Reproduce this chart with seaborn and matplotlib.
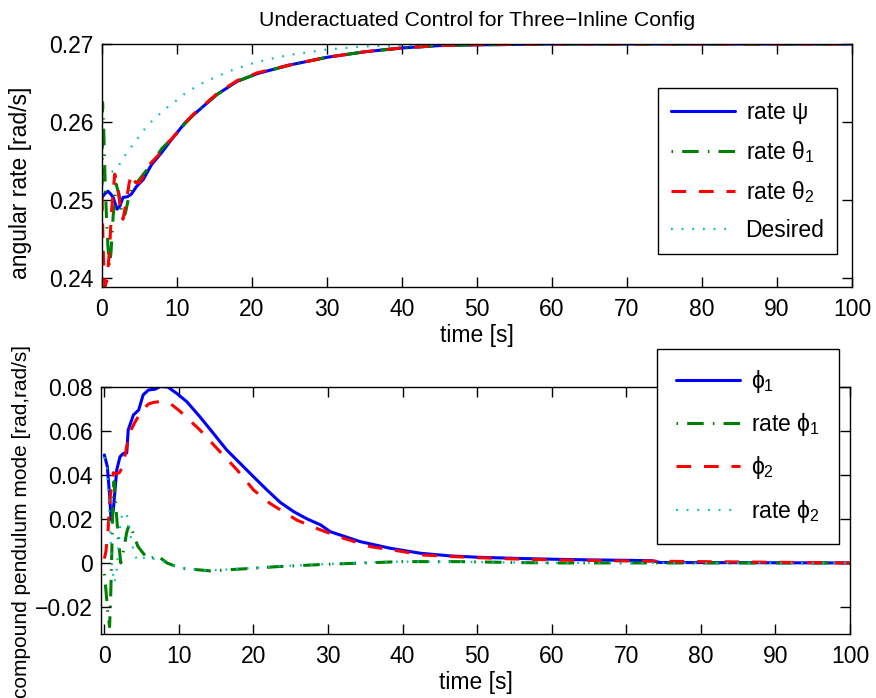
import matplotlib
matplotlib.use("Agg")
import matplotlib.pyplot as plt
import seaborn as sns
from matplotlib.lines import Line2D

# ---- angular rates (top panel) ----
t_psi = [0, 0.4, 0.8, 1.2, 1.5, 2.0, 2.4, 2.8, 3.4, 3.9, 4.6, 5.5, 6.6, 7.9,
         9.25, 11.0, 12.2, 15.3, 18.0, 20.7, 25, 30, 35, 40, 45, 50, 60, 100]
rate_psi = [0.2503, 0.2508, 0.2511, 0.2507, 0.2503, 0.2488, 0.2492, 0.2503, 0.2504,
            0.2507, 0.2517, 0.2526, 0.2545, 0.2560, 0.2577, 0.2598, 0.2609, 0.2635,
            0.2652, 0.2662, 0.2673, 0.2683, 0.2690, 0.2695, 0.2698, 0.2699, 0.2700, 0.2700]

t_th1 = [0, 0.08, 0.25, 0.4, 0.6, 0.8, 1.0, 1.2, 1.5, 1.9, 2.3, 2.7, 3.1, 3.5, 3.9,
         4.5, 5.3, 6.5, 8, 10, 11, 12.2, 15.3, 18, 20.7, 25, 30, 35, 40, 45, 50, 60, 100]
rate_th1 = [0.2505, 0.2625, 0.2585, 0.2530, 0.2478, 0.2440, 0.2415, 0.2432, 0.2480,
            0.2520, 0.2505, 0.2478, 0.2482, 0.2500, 0.2513, 0.2520, 0.2530, 0.2545,
            0.2566, 0.2585, 0.2597, 0.2609, 0.2635, 0.2652, 0.2662, 0.2673, 0.2683,
            0.2690, 0.2695, 0.2698, 0.2699, 0.2700, 0.2700]

t_th2 = [0, 0.2, 0.4, 0.7, 1.0, 1.3, 1.7, 2.1, 2.5, 2.8, 3.2, 3.6, 3.9, 4.5, 5.0,
         5.5, 6.5, 7.5, 8.5, 10, 11, 12.2, 15.3, 18, 20.7, 25, 30, 35, 40, 45, 50, 60, 100]
rate_th2 = [0.2505, 0.2425, 0.2389, 0.2398, 0.2435, 0.2488, 0.2533, 0.2520, 0.2482,
            0.2475, 0.2495, 0.2520, 0.2533, 0.2522, 0.2522, 0.2530, 0.2547, 0.2557,
            0.2570, 0.2586, 0.2598, 0.2610, 0.2636, 0.2653, 0.2663, 0.2673, 0.2683,
            0.2690, 0.2695, 0.2698, 0.2699, 0.2700, 0.2700]

t_des = [0, 1, 2, 3, 4, 5, 6, 7, 8, 9, 10, 11, 13, 15, 17.5, 20, 22.5, 25, 30, 35,
         40, 45, 50, 60, 100]
rate_des = [0.2530, 0.2534, 0.2540, 0.2556, 0.2569, 0.2582, 0.2595, 0.2604, 0.2613,
            0.2621, 0.2628, 0.2636, 0.2648, 0.2657, 0.2667, 0.2675, 0.2681, 0.2686,
            0.2693, 0.2697, 0.2698, 0.2699, 0.2700, 0.2700, 0.2700]

# ---- compound pendulum mode (bottom panel) ----
t_phi1 = [0, 0.4, 0.72, 0.9, 1.2, 1.66, 2.1, 2.55, 3.0, 3.2, 3.9, 4.6, 5.2, 5.9, 6.8,
          7.5, 8.5, 9.7, 11.06, 12.8, 14.6, 16.4, 18.2, 20, 21.8, 23.6, 25.4, 27.2, 29,
          30.3, 34.3, 38.3, 42.4, 46.4, 50, 55, 60, 65, 70, 73.5, 74.5, 100]
phi1 = [0.0491, 0.0438, 0.0301, 0.0195, 0.0240, 0.0423, 0.0483, 0.0498, 0.0500,
        0.0605, 0.0673, 0.0695, 0.0764, 0.0786, 0.0790, 0.0802, 0.0800, 0.0771,
        0.0733, 0.0665, 0.0590, 0.0514, 0.0453, 0.0392, 0.0332, 0.0275, 0.0233,
        0.0200, 0.0173, 0.0142, 0.0097, 0.0067, 0.0044, 0.0032, 0.0026, 0.0021,
        0.0017, 0.0014, 0.0012, 0.0010, 0.0002, 0.0000]

t_rphi1 = [0, 0.2, 0.45, 0.7, 0.85, 1.0, 1.15, 1.3, 1.6, 1.9, 2.2, 2.6, 3.0, 3.35,
           3.8, 4.5, 5.3, 6.1, 7.0, 8.4, 10.2, 14.2, 19.1, 23.1, 29.8, 35, 39.7, 47.7,
           55, 60, 100]
rate_phi1 = [-0.0050, -0.0120, -0.0220, -0.0290, -0.0150, 0.0050, 0.0280, 0.0370,
             0.0230, 0.0100, 0.0000, 0.0060, 0.0140, 0.0175, 0.0140, 0.0075, 0.0040,
             0.0015, 0.0036, 0.0000, -0.0024, -0.0036, -0.0026, -0.0017, -0.0006,
             0.0000, 0.0006, 0.0006, 0.0002, 0.0000, 0.0000]

t_phi2 = [0, 0.2, 0.5, 0.72, 1.0, 1.2, 1.6, 2.0, 2.5, 3.0, 3.5, 4.1, 5.0, 5.9, 6.6,
          7.4, 8.8, 10.2, 12.8, 15.5, 17.8, 20, 22.2, 25.8, 29, 32.1, 35.7, 39.2, 42.8,
          46.8, 50, 55, 60, 70, 100]
phi2 = [0.0020, 0.0050, 0.0150, 0.0280, 0.0360, 0.0410, 0.0405, 0.0410, 0.0440,
        0.0530, 0.0600, 0.0640, 0.0690, 0.0722, 0.0730, 0.0733, 0.0726, 0.0688,
        0.0605, 0.0506, 0.0423, 0.0332, 0.0271, 0.0195, 0.0150, 0.0112, 0.0074,
        0.0056, 0.0036, 0.0029, 0.0024, 0.0018, 0.0014, 0.0009, 0.0000]

t_rphi2 = [0, 0.3, 0.55, 0.8, 1.0, 1.3, 1.6, 1.9, 2.2, 2.6, 3.0, 3.4, 3.9, 4.4, 5.0,
           5.6, 6.5, 7.5, 8.3, 10, 14, 19, 23, 30, 35, 40, 48, 55, 60, 100]
rate_phi2 = [0.0480, 0.0460, 0.0300, 0.0150, 0.0000, -0.0090, -0.0060, 0.0080,
             0.0200, 0.0230, 0.0225, 0.0140, 0.0060, 0.0010, 0.0015, 0.0030, 0.0020,
             0.0015, 0.0000, -0.0022, -0.0034, -0.0025, -0.0016, -0.0005, 0.0002,
             0.0006, 0.0005, 0.0002, 0.0000, 0.0000]

top_labels = [r"rate $\psi$", r"rate $\theta_1$", r"rate $\theta_2$", "Desired"]
bot_labels = [r"$\phi_1$", r"rate $\phi_1$", r"$\phi_2$", r"rate $\phi_2$"]
x_ticks = [0, 10, 20, 30, 40, 50, 60, 70, 80, 90, 100]
top_yticks = [0.24, 0.25, 0.26, 0.27]
top_yticklabels = ["0.24", "0.25", "0.26", "0.27"]
bot_yticks = [-0.02, 0, 0.02, 0.04, 0.06, 0.08]
bot_yticklabels = ["\u22120.02", "0", "0.02", "0.04", "0.06", "0.08"]

sns.set_theme(style="ticks")
plt.rcParams.update({
    "font.family": ["Liberation Sans", "DejaVu Sans"],
    "mathtext.fontset": "custom",
    "mathtext.rm": "Liberation Sans",
    "mathtext.it": "Liberation Sans",
    "mathtext.bf": "Liberation Sans:bold",
    "axes.edgecolor": "black",
    "axes.linewidth": 1.0,
    "xtick.color": "black",
    "ytick.color": "black",
    "text.color": "black",
    "axes.labelcolor": "black",
})

BLUE, GREEN, RED, CYAN = "#0000ff", "#008000", "#ff0000", "#00bfbf"
styles = [
    dict(color=BLUE, lw=2.2, linestyle="-"),
    dict(color=GREEN, lw=2.2, linestyle=(0, (0.5, 3.0, 5.4, 3.0))),
    dict(color=RED, lw=2.2, linestyle=(0, (4.8, 4.2))),
    dict(color=CYAN, lw=1.6, linestyle=(0, (0.8, 4.0))),
]

fig = plt.figure(figsize=(8.76, 6.98), dpi=100)
ax1 = fig.add_axes([0.1164, 0.5888, 0.8562, 0.3481])
ax2 = fig.add_axes([0.1153, 0.0917, 0.8550, 0.3539])

top_series = [(t_psi, rate_psi), (t_th1, rate_th1), (t_th2, rate_th2), (t_des, rate_des)]
bot_series = [(t_phi1, phi1), (t_rphi1, rate_phi1), (t_phi2, phi2), (t_rphi2, rate_phi2)]

for ax, series in ((ax1, top_series), (ax2, bot_series)):
    for (tx, vy), st in zip(series, styles):
        sns.lineplot(x=tx, y=vy, ax=ax, estimator=None, sort=False,
                     color=st["color"], linewidth=st["lw"], linestyle=st["linestyle"])

FS = 16.5
for ax in (ax1, ax2):
    ax.set_xticks(x_ticks)
    ax.set_xticklabels([str(v) for v in x_ticks])
    ax.tick_params(direction="in", length=7, width=1, labelsize=FS, pad=6,
                   top=True, right=True)
    ax.tick_params(axis="x", pad=8)
    ax.set_xlabel("time [s]", fontsize=FS, labelpad=2)
    for s in ax.spines.values():
        s.set_visible(True)
        s.set_color("black")
        s.set_linewidth(1.0)

ax1.set_xlim(0, 100)
ax1.set_ylim(0.2388, 0.2700)
ax1.set_yticks(top_yticks)
ax1.set_yticklabels(top_yticklabels)
ax1.set_ylabel("angular rate [rad/s]", fontsize=FS)
ax1.yaxis.set_label_coords(-0.093, 0.43)
ax1.set_title("Underactuated Control for Three\u2212Inline Config", fontsize=15.3, pad=13)

ax2.set_xlim(-0.45, 100)
ax2.set_ylim(-0.0323, 0.0800)
ax2.set_yticks(bot_yticks)
ax2.set_yticklabels(bot_yticklabels)
ax2.set_ylabel("compound pendulum mode [rad,rad/s]", fontsize=15.0)
ax2.yaxis.set_label_coords(-0.094, 0.455)


def make_legend(ax, labels, anchor, spacing, pad, hlen):
    handles = [Line2D([], [], color=st["color"], lw=st["lw"], linestyle=st["linestyle"])
               for st in styles]
    leg = ax.legend(handles, labels, loc="upper right", bbox_to_anchor=anchor,
                    fontsize=FS, frameon=True, fancybox=False, framealpha=1,
                    edgecolor="black", handlelength=hlen, handletextpad=0.45,
                    labelspacing=spacing, borderpad=pad, borderaxespad=0)
    leg.get_frame().set_linewidth(1.0)
    leg.set_zorder(5)
    return leg


make_legend(ax1, top_labels, (0.98, 0.819), 0.6, 0.55, 2.8)
make_legend(ax2, bot_labels, (0.985, 1.154), 0.7, 0.85, 2.8)

fig.savefig("out.png", dpi=100, facecolor="white")
